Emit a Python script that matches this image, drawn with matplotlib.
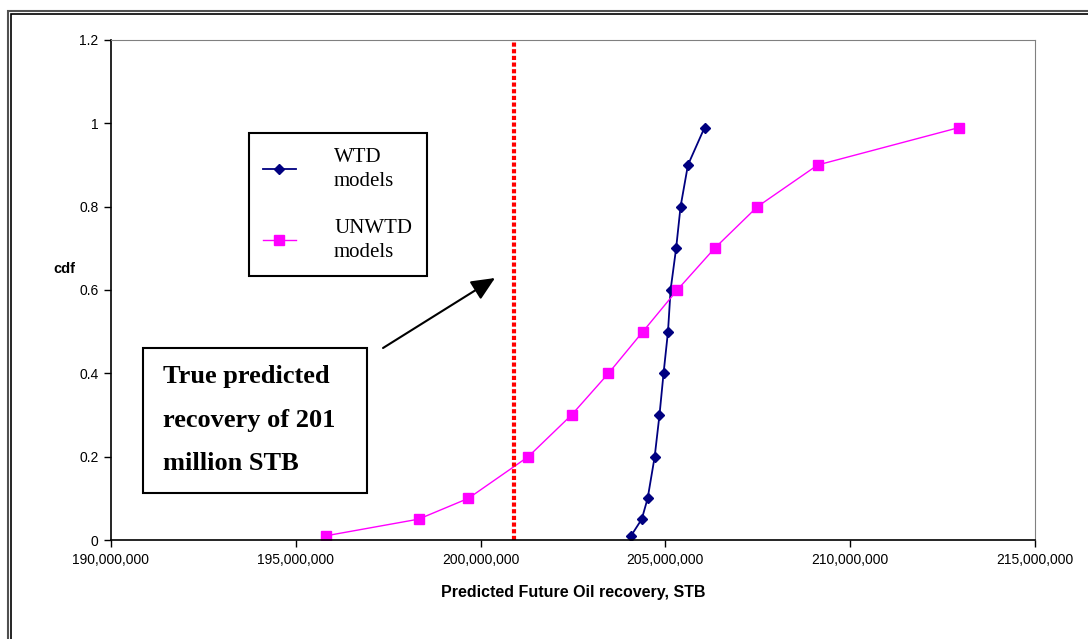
import matplotlib
matplotlib.use('Agg')
import matplotlib.pyplot as plt
from matplotlib.patches import Rectangle
from matplotlib.ticker import FuncFormatter, MultipleLocator

# cdf levels shared by both series
cdf = [0.01, 0.05, 0.1, 0.2, 0.3, 0.4, 0.5, 0.6, 0.7, 0.8, 0.9, 0.99]

# predicted recovery, STB
wtd = [204.07e6, 204.36e6, 204.52e6, 204.71e6, 204.84e6, 204.95e6,
       205.07e6, 205.14e6, 205.29e6, 205.41e6, 205.61e6, 206.06e6]
unwtd = [195.81e6, 198.32e6, 199.67e6, 201.29e6, 202.46e6, 203.46e6,
         204.39e6, 205.32e6, 206.33e6, 207.49e6, 209.12e6, 212.95e6]

true_recovery = 200.9e6

W, H = 1088, 639
fig = plt.figure(figsize=(W / 100, H / 100), dpi=100)
ax = fig.add_axes([111 / W, 1 - 540 / H, 924 / W, 500 / H])

# double outer frame (cut off at right and bottom)
fig.patches.append(Rectangle((8 / W, -0.1), 1.2, 1 - 11 / H + 0.1, transform=fig.transFigure,
                             fill=False, ec='#505050', lw=1.5))
fig.patches.append(Rectangle((11 / W, -0.1), 1.2, 1 - 14 / H + 0.1, transform=fig.transFigure,
                             fill=False, ec='black', lw=1.2))

ax.plot(wtd, cdf, color='#000080', lw=1.3, marker='D', ms=5, label='WTD\nmodels')
ax.plot(unwtd, cdf, color='#FF00FF', lw=1, marker='s', ms=6.5, label='UNWTD\nmodels')
ax.axvline(true_recovery, color='red', lw=3, dashes=(1, 0.6), dash_capstyle='butt')

ax.set_xlim(190e6, 215e6)
ax.set_ylim(0, 1.2)
ax.xaxis.set_major_locator(MultipleLocator(5e6))
ax.yaxis.set_major_locator(MultipleLocator(0.2))
ax.xaxis.set_major_formatter(FuncFormatter(lambda v, p: f'{v:,.0f}'))
ax.yaxis.set_major_formatter(FuncFormatter(lambda v, p: f'{v:g}'))
ax.tick_params(direction='out', length=5, width=1, labelsize=10, pad=4)
for lab in ax.get_xticklabels() + ax.get_yticklabels():
    lab.set_family('Liberation Sans')

ax.spines['top'].set_color('#808080')
ax.spines['right'].set_color('#808080')
ax.spines['left'].set_linewidth(1.2)
ax.spines['bottom'].set_linewidth(1.2)

ax.set_xlabel('Predicted Future Oil recovery, STB', family='Liberation Sans',
              fontweight='bold', fontsize=11.5, labelpad=13)
ax.set_ylabel('cdf', family='Liberation Sans', fontweight='bold', fontsize=10.5,
              rotation=0, ha='center', va='center')
ax.yaxis.set_label_coords((64 - 111) / 924, (540 - 269) / 500)

leg = ax.legend(loc='upper left', bbox_to_anchor=(0.149, 0.814), borderaxespad=0,
                prop={'family': 'Liberation Serif', 'size': 15},
                handlelength=1.55, handletextpad=1.85, labelspacing=1.35,
                borderpad=0.7, fancybox=False, framealpha=1)
for t in leg.get_texts():
    t.set_linespacing(1.36)
    t.set_multialignment('left')
leg.get_frame().set_edgecolor('black')
leg.get_frame().set_linewidth(1.5)

# annotation box and arrow
ax.add_patch(Rectangle((0.0346, 0.094), 0.2424, 0.29, transform=ax.transAxes,
                       fill=False, ec='black', lw=1.5, zorder=5))
ax.text(0.0563, 0.24, 'True predicted\nrecovery of 201\nmillion STB', transform=ax.transAxes,
        family='Liberation Serif', fontweight='bold', fontsize=19, linespacing=2.13,
        ha='left', va='center')
ax.annotate('', xy=(0.4156, 0.524), xytext=(0.2944, 0.384),
            xycoords='axes fraction', textcoords='axes fraction',
            arrowprops=dict(arrowstyle='-|>,head_length=0.4,head_width=0.18',
                            mutation_scale=36, lw=1.5, color='black',
                            shrinkA=0, shrinkB=0))

fig.savefig('out.png', dpi=100)
